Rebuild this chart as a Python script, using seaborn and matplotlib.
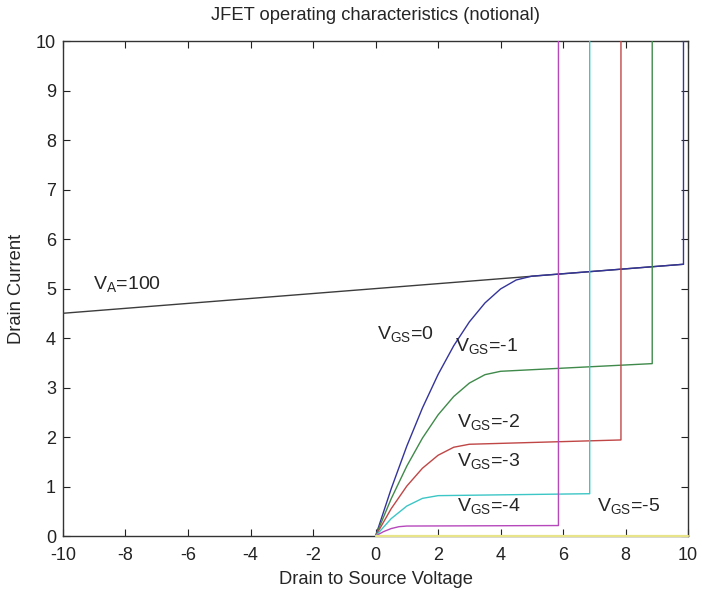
import pandas as pd
import matplotlib
matplotlib.use("Agg")
import matplotlib.pyplot as plt
import seaborn as sns

# drain current curves (V_DS, I_D), ending with breakdown jump
vds_0 = [0, 0.5, 1, 1.5, 2, 2.5, 3, 3.5, 4, 4.5, 5, 9.85, 9.85]
id_0 = [0, 0.955, 1.818, 2.588, 3.264, 3.844, 4.326, 4.709, 4.992, 5.173, 5.25, 5.49, 10.5]

vds_1 = [0, 0.5, 1, 1.5, 2, 2.5, 3, 3.5, 4, 8.85, 8.85]
id_1 = [0, 0.754, 1.414, 1.979, 2.448, 2.819, 3.09, 3.26, 3.328, 3.483, 10.5]

vds_2 = [0, 0.5, 1, 1.5, 2, 2.5, 3, 7.85, 7.85]
id_2 = [0, 0.553, 1.01, 1.37, 1.632, 1.794, 1.854, 1.941, 10.5]

vds_3 = [0, 0.5, 1, 1.5, 2, 6.85, 6.85]
id_3 = [0, 0.352, 0.606, 0.761, 0.816, 0.855, 10.5]

vds_4 = [0, 0.25, 0.5, 0.75, 1, 5.85, 5.85]
id_4 = [0, 0.0875, 0.151, 0.189, 0.202, 0.212, 10.5]

vds_5 = [0, 10]
id_5 = [0, 0]

# Early voltage line
vds_a = [-10, 9.85]
id_a = [4.5, 5.49]

labels = ["VA", "0", "-1", "-2", "-3", "-4", "-5"]
colors = ["#3c3c3c", "#34349a", "#3f8a4a", "#c04646", "#3cc6c6", "#b648bc", "#e8e48a"]

frames = []
for lab, xs, ys in zip(labels,
                       [vds_a, vds_0, vds_1, vds_2, vds_3, vds_4, vds_5],
                       [id_a, id_0, id_1, id_2, id_3, id_4, id_5]):
    frames.append(pd.DataFrame({"vds": xs, "id": ys, "curve": lab}))
df = pd.concat(frames, ignore_index=True)

sns.set_style("white")
plt.rcParams["font.family"] = ["Liberation Sans", "DejaVu Sans"]
plt.rcParams["mathtext.fontset"] = "custom"
plt.rcParams["mathtext.rm"] = "Liberation Sans"
plt.rcParams["axes.unicode_minus"] = False

fig = plt.figure(figsize=(7.02, 5.91), dpi=100)
ax = fig.add_axes([0.0897, 0.093, 0.8906, 0.8376])

sns.lineplot(data=df, x="vds", y="id", hue="curve", estimator=None, sort=False,
             palette=dict(zip(labels, colors)), linewidth=1.0, legend=False, ax=ax)
for ln in ax.get_lines():
    ln.set_zorder(3)
ax.get_lines()[-1].set_clip_on(False)
ax.get_lines()[-1].set_linewidth(1.6)

ax.set_xlim(-10, 10)
ax.set_ylim(0, 10)
ax.set_xticks(range(-10, 11, 2))
ax.set_yticks(range(0, 11, 1))
ax.tick_params(direction="in", length=5, width=0.8, top=True, right=True,
               bottom=True, left=True, labelsize=13, colors="#222222", pad=5)
ax.tick_params(axis="x", pad=8)
for s in ax.spines.values():
    s.set_color("#333333")
    s.set_linewidth(1.0)

ax.set_title("JFET operating characteristics (notional)", fontsize=13.2, pad=15)
ax.set_xlabel("Drain to Source Voltage", fontsize=13.2, labelpad=5)
ax.set_ylabel("Drain Current", fontsize=13.2, labelpad=8)

fs = 14
ax.text(-9.05, 5.07, r"V$_{\rm A}$=100", fontsize=fs, va="center")
ax.text(0.05, 4.06, r"V$_{\rm GS}$=0", fontsize=fs, va="center")
ax.text(2.55, 3.82, r"V$_{\rm GS}$=-1", fontsize=fs, va="center")
ax.text(2.6, 2.28, r"V$_{\rm GS}$=-2", fontsize=fs, va="center")
ax.text(2.6, 1.5, r"V$_{\rm GS}$=-3", fontsize=fs, va="center")
ax.text(2.6, 0.59, r"V$_{\rm GS}$=-4", fontsize=fs, va="center")
ax.text(7.08, 0.59, r"V$_{\rm GS}$=-5", fontsize=fs, va="center")

fig.savefig("out.png", dpi=100)
